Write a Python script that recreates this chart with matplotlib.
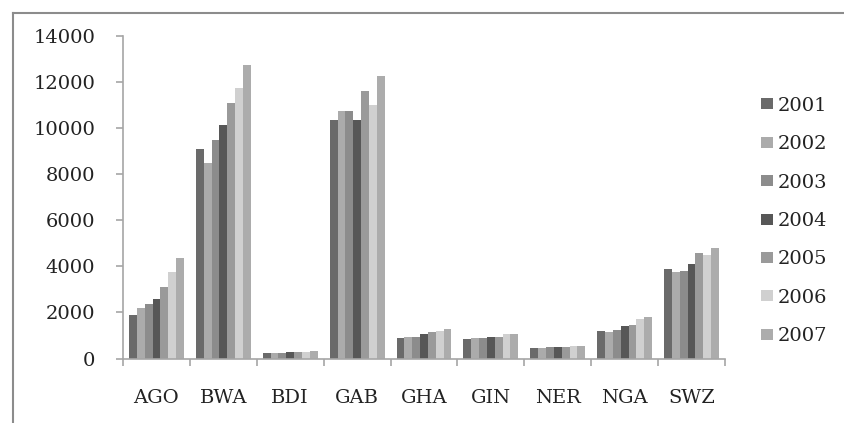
import matplotlib
matplotlib.use("Agg")
import matplotlib.pyplot as plt
from matplotlib.lines import Line2D
from matplotlib.patches import Patch
import numpy as np

countries = ['AGO', 'BWA', 'BDI', 'GAB', 'GHA', 'GIN', 'NER', 'NGA', 'SWZ']
years = ['2001', '2002', '2003', '2004', '2005', '2006', '2007']

v2001 = [1900, 9100, 250, 10350, 900, 850, 460, 1200, 3900]
v2002 = [2200, 8500, 250, 10750, 950, 900, 450, 1150, 3750]
v2003 = [2350, 9500, 260, 10750, 950, 900, 490, 1240, 3800]
v2004 = [2600, 10150, 280, 10350, 1050, 950, 490, 1400, 4100]
v2005 = [3100, 11100, 270, 11600, 1130, 950, 520, 1470, 4600]
v2006 = [3750, 11750, 290, 11000, 1200, 1050, 560, 1700, 4500]
v2007 = [4350, 12750, 320, 12250, 1300, 1050, 560, 1800, 4800]
series = [v2001, v2002, v2003, v2004, v2005, v2006, v2007]

colors = ['#6a6a6a', '#ababab', '#8c8c8c', '#575757', '#9a9a9a', '#d0d0d0', '#acacac']

plt.rcParams['font.family'] = 'DejaVu Serif'
plt.rcParams['font.size'] = 14

fig = plt.figure(figsize=(8.44, 4.23), dpi=100)
ax = fig.add_axes([123/844, 1 - 358.5/423, (725 - 123)/844, (358.5 - 36)/423])

x = np.arange(len(countries)) + 0.5
w = 0.117
for k, vals in enumerate(series):
    ax.bar(x + (k - 3) * w, vals, width=w, color=colors[k], linewidth=0)

ax.set_xlim(0, len(countries))
ax.set_ylim(0, 14000)
ax.set_yticks(range(0, 14001, 2000))
ax.set_xticks(range(len(countries) + 1))
ax.set_xticklabels([])
ax.set_xticks(x, minor=True)
ax.set_xticklabels(countries, minor=True)

for s in ['top', 'right']:
    ax.spines[s].set_visible(False)
for s in ['left', 'bottom']:
    ax.spines[s].set_color('#a6a6a6')
    ax.spines[s].set_linewidth(1.2)

ax.tick_params(axis='y', length=5, color='#a6a6a6', width=1.2, pad=15, labelcolor='#222222')
ax.tick_params(axis='x', which='major', length=5, color='#a6a6a6', width=1.2)
ax.tick_params(axis='x', which='minor', length=0, pad=22, labelcolor='#222222')

handles = [Patch(facecolor=c, edgecolor='none') for c in colors]
fig.legend(handles, years, loc='center left', bbox_to_anchor=(761/844, 1 - 221/423),
           frameon=False, handlelength=0.6, handleheight=0.5, handletextpad=0.25,
           labelspacing=1.05, borderpad=0, borderaxespad=0, labelcolor='#222222')

# outer frame (top and left edge of the chart area)
fig.add_artist(Line2D([13/844, 1], [1 - 13/423, 1 - 13/423], color='#8c8c8c', lw=1.5))
fig.add_artist(Line2D([13/844, 13/844], [0, 1 - 13/423], color='#8c8c8c', lw=1.5))

fig.savefig('out.png', dpi=100)
